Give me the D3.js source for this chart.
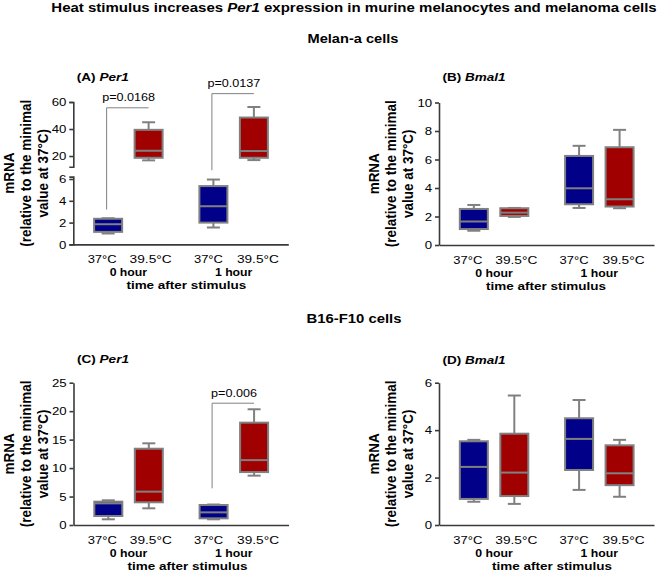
<!DOCTYPE html>
<html><head><meta charset="utf-8">
<script src="https://cdn.jsdelivr.net/npm/d3@7"></script>
<style>body{margin:0;background:#fff}svg{display:block}text{font-family:"Liberation Sans",Arial,sans-serif;fill:#000}</style>
</head><body>
<svg id="c" width="660" height="572"></svg>
<script>
// ---------------- data ----------------
const temps = ["37°C", "39.5°C"];
const times = ["0 hour", "1 hour"];
// box summaries per group (0h 37, 0h 39.5, 1h 37, 1h 39.5): [min, q1, median, q3, max]
const per1Melan  = [[1.0, 1.15, 1.85, 2.35, 2.4], [16.8, 18.7, 23.9, 39.4, 45], [1.55, 2.0, 3.5, 5.35, 5.95], [17, 18.7, 23.7, 48.5, 56.3]];
const bmal1Melan = [[1.0, 1.12, 1.65, 2.53, 2.81], [1.97, 2.04, 2.27, 2.58, 2.6], [2.6, 2.86, 3.98, 6.25, 6.96], [2.58, 2.7, 3.21, 6.86, 8.08]];
const per1B16    = [[1.0, 1.58, 3.8, 4.1, 4.34], [2.93, 3.99, 5.86, 13.4, 14.35], [1.0, 1.17, 2.22, 3.51, 3.6], [8.67, 9.3, 11.4, 17.98, 20.33]];
const bmal1B16   = [[0.98, 1.1, 2.45, 3.53, 3.59], [0.89, 1.22, 2.21, 3.85, 5.46], [1.48, 2.32, 3.63, 4.5, 5.27], [1.19, 1.68, 2.18, 3.36, 3.59]];
const ticksALow = [0, 2, 4, 6], ticksAHigh = [20, 40, 60];
const ticksB = [0, 2, 4, 6, 8, 10];
const ticksC = [0, 5, 10, 15, 20, 25];
const ticksD = [0, 2, 4, 6];
const pLabelsA = ["p=0.0168", "p=0.0137"];
const pLabelsC = ["p=0.006"];
const pBracketsA = [{a: 0, b: 1, lo: 3.2, hi: 55.7}, {a: 2, b: 3, lo: 6.8, hi: 66.2}];
const pBracketsC = [{a: 2, b: 3, lo: 6.45, hi: 21.4}];

// ---------------- style ----------------
const SX = 1.15;            // horizontal text stretch of the original figure
const BLUE = "#000088", RED = "#a00000", GRAY = "#808080", AXIS = "#3a3a3a";
const svg = d3.select("#c");

function txt(x, y, parts, o = {}) {
  const size = o.size || 12;
  const t = svg.append("text")
    .attr("text-anchor", o.anchor || "middle")
    .style("font-size", size + "px")
    .style("font-weight", o.bold ? "bold" : "normal");
  if (o.dy) t.attr("dy", o.dy);
  (Array.isArray(parts) ? parts : [[parts, false]]).forEach(([s, it]) => {
    t.append("tspan").text(s).style("font-style", it ? "italic" : "normal");
  });
  let sx = SX;
  if (o.fit) sx = o.fit / t.node().getComputedTextLength();
  t.attr("transform", `translate(${x},${y}) scale(${sx},1)` + (o.rot ? " rotate(-90)" : ""));
  return t;
}

// ---------------- headings ----------------
txt(354, 12, [["Heat stimulus increases ", false], ["Per1", true], [" expression in murine melanocytes and melanoma cells", false]], {size: 13, bold: true, fit: 606});
txt(353, 43, "Melan-a cells", {size: 13, bold: true, fit: 91});
txt(354, 323, "B16-F10 cells", {size: 13, bold: true, fit: 95});

// ---------------- panels ----------------
function panel(cfg) {
  const L = cfg.L, W = 215, T = cfg.T, B = cfg.B;
  const x = d3.scaleLinear().domain([-0.86, 4.45]).range([L, L + W]);
  const slot = i => Math.floor(i / 2) * 2.6 + (i % 2);
  let y, axes;
  if (cfg.broken) {
    const lo = d3.scaleLinear().domain([0, 6.22]).range([B, B - 67.8]);
    const hi = d3.scaleLinear().domain([12.1, 60]).range([T + 64.7, T]);
    y = v => (v < 9 ? lo(v) : hi(v));
    axes = [[lo, cfg.ticks[0], 4], [hi, cfg.ticks[1], 4]];
  } else {
    const s = d3.scaleLinear().domain(cfg.domain).range([B, T]);
    y = s;
    axes = [[s, cfg.ticks, 0]];
  }
  // y axes
  axes.forEach(([s, tv, outer]) => {
    const ga = svg.append("g").attr("transform", `translate(${L},0)`)
      .call(d3.axisLeft(s).tickValues(tv).tickSize(4).tickSizeOuter(outer).tickPadding(2).tickFormat(d3.format("d")));
    ga.select(".domain").attr("stroke", AXIS).attr("stroke-width", 1.6);
    ga.selectAll(".tick line").attr("stroke", AXIS).attr("stroke-width", 1.6);
    ga.selectAll(".tick text").attr("transform", `scale(${SX},1)`).style("font-size", "11.5px")
      .style("font-family", "'Liberation Sans', Arial, sans-serif").attr("fill", "#000");
  });
  // x axis
  const gx = svg.append("g").attr("transform", `translate(0,${B})`)
    .call(d3.axisBottom(x).tickValues([]).tickSizeOuter(0));
  gx.select(".domain").attr("stroke", AXIS).attr("stroke-width", 1.6);

  // boxes
  const bw = 28, cw = 13;
  cfg.data.forEach((d, i) => {
    const cx = x(slot(i));
    const [mn, q1, md, q3, mx] = d;
    const g = svg.append("g");
    g.append("line").attr("x1", cx).attr("x2", cx).attr("y1", y(mn)).attr("y2", y(q1)).attr("stroke", GRAY).attr("stroke-width", 2);
    g.append("line").attr("x1", cx).attr("x2", cx).attr("y1", y(q3)).attr("y2", y(mx)).attr("stroke", GRAY).attr("stroke-width", 2);
    g.append("line").attr("x1", cx - cw / 2).attr("x2", cx + cw / 2).attr("y1", y(mn)).attr("y2", y(mn)).attr("stroke", GRAY).attr("stroke-width", 2);
    g.append("line").attr("x1", cx - cw / 2).attr("x2", cx + cw / 2).attr("y1", y(mx)).attr("y2", y(mx)).attr("stroke", GRAY).attr("stroke-width", 2);
    g.append("rect").attr("x", cx - bw / 2).attr("width", bw).attr("y", y(q3)).attr("height", y(q1) - y(q3))
      .attr("fill", i % 2 ? RED : BLUE).attr("stroke", GRAY).attr("stroke-width", 2);
    g.append("line").attr("x1", cx - bw / 2).attr("x2", cx + bw / 2).attr("y1", y(md)).attr("y2", y(md)).attr("stroke", GRAY).attr("stroke-width", 2);
  });

  // p-value brackets
  (cfg.brackets || []).forEach((b, k) => {
    const xa = x(slot(b.a)) - 1.5, xb = x(slot(b.b));
    svg.append("path").attr("d", `M${xa},${y(b.lo)}V${y(b.hi)}H${xb}`)
      .attr("fill", "none").attr("stroke", GRAY).attr("stroke-width", 1);
    txt((xa + xb) / 2 + 1, y(b.hi) - 6.5, cfg.pLabels[k], {size: 10.5, fit: cfg.pFit[k]});
  });

  // category labels
  const dxs = [-6, 2, -5, 4];
  cfg.data.forEach((d, i) => txt(x(slot(i)) + dxs[i], B + 18.5, temps[i % 2], {size: 10.5, fit: i % 2 ? 42 : 29}));
  times.forEach((t, j) => txt((x(slot(2 * j)) + x(slot(2 * j + 1))) / 2, B + 32, t, {size: 11.5, bold: true, fit: 37.5}));
  txt(L + cfg.tx, B + 45, "time after stimulus", {size: 11.5, bold: true, fit: 120});

  // panel title
  txt(L + 3.5, cfg.titleY, [[cfg.label + " ", false], [cfg.gene, true]], {size: 11.5, bold: true, anchor: "start", fit: cfg.titleW});

  // y-axis title
  const mid = (T + B) / 2;
  [["mRNA", 65], ["(relative to the minimal", 48], ["value at 37°C)", 31]].forEach(([s, off]) =>
    txt(L - off, mid, s, {size: 13.5, bold: true, rot: true, dy: "0.35em"}));
}

panel({L: 73.3, T: 102, B: 244.4, broken: true, ticks: [ticksALow, ticksAHigh], data: per1Melan,
  brackets: pBracketsA, pLabels: pLabelsA, pFit: [53, 53], label: "(A)", gene: "Per1", titleY: 81, tx: 113, titleW: 52});
panel({L: 439, T: 102.5, B: 245, domain: [0, 10], ticks: ticksB, data: bmal1Melan,
  label: "(B)", gene: "Bmal1", titleY: 81, tx: 107, titleW: 63});
panel({L: 73.5, T: 382.7, B: 525, domain: [0, 25], ticks: ticksC, data: per1B16,
  brackets: pBracketsC, pLabels: pLabelsC, pFit: [46], label: "(C)", gene: "Per1", titleY: 363, tx: 114, titleW: 52});
panel({L: 439, T: 382.7, B: 525, domain: [0, 6], ticks: ticksD, data: bmal1B16,
  label: "(D)", gene: "Bmal1", titleY: 364, tx: 113, titleW: 63});
</script>
</body></html>
